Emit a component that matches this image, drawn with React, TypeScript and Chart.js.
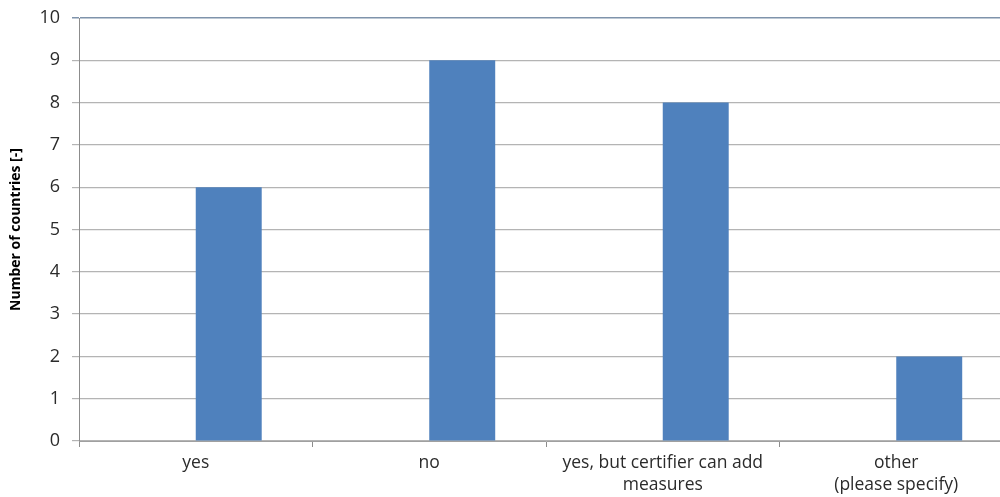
import React, { useEffect, useRef } from "react";
import { Chart, registerables } from "chart.js";

Chart.register(...registerables);

const categories: (string | string[])[] = [
  "yes",
  "no",
  ["yes, but certifier can add", "measures"],
  ["other", "(please specify)"],
];
const emptySeries: (number | null)[] = [null, null, null, null];
const countries: number[] = [6, 9, 8, 2];
const yTicks: number[] = [0, 1, 2, 3, 4, 5, 6, 7, 8, 9, 10];

const FONT = "'Open Sans', 'Liberation Sans', sans-serif";

export default function App() {
  const ref = useRef<HTMLCanvasElement | null>(null);

  useEffect(() => {
    document.body.style.margin = "0";
    const canvas = ref.current;
    if (!canvas) return;
    const chart = new Chart(canvas, {
      type: "bar",
      data: {
        labels: categories,
        datasets: [
          {
            label: "blank",
            data: emptySeries,
            backgroundColor: "rgba(0,0,0,0)",
          },
          {
            label: "Number of countries",
            data: countries,
            backgroundColor: "#4F81BD",
            borderWidth: 0,
          },
        ],
      },
      options: {
        animation: false,
        responsive: false,
        maintainAspectRatio: false,
        layout: { padding: { left: 0, right: 0, top: 18, bottom: 0 } },
        plugins: {
          legend: { display: false },
          tooltip: { enabled: false },
        },
        datasets: {
          bar: { categoryPercentage: 0.565, barPercentage: 1 },
        },
        scales: {
          x: {
            offset: true,
            border: { display: true, color: "#a0a0a0", width: 1 },
            grid: {
              display: true,
              offset: true,
              drawOnChartArea: false,
              drawTicks: true,
              tickLength: 6,
              color: "#8c8c8c",
            },
            ticks: {
              color: "#2b2b2b",
              font: { family: FONT, size: 17.5, lineHeight: 1.25 },
              padding: 5,
              maxRotation: 0,
              autoSkip: false,
            },
            afterFit: (scale: any) => {
              scale.height = 497 - 441;
              scale.paddingLeft = 0;
              scale.paddingRight = 0;
            },
          },
          y: {
            min: 0,
            max: 10,
            afterBuildTicks: (scale: any) => {
              scale.ticks = yTicks.map((v) => ({ value: v }));
            },
            border: { display: true, color: "#8c8c8c", width: 1 },
            grid: {
              display: true,
              drawTicks: true,
              tickLength: 7,
              color: (ctx: any) =>
                ctx.tick && ctx.tick.value === 10 ? "#7f93ab" : "#b4b4b4",
              lineWidth: (ctx: any) => (ctx.tick && ctx.tick.value === 10 ? 1.5 : 1.2),
            },
            ticks: {
              color: "#2b2b2b",
              font: { family: FONT, size: 18 },
              padding: 12,
            },
            title: {
              display: true,
              text: "Number of countries [-]",
              color: "#000000",
              font: { family: FONT, size: 14, weight: "bold" },
              padding: { top: 8, bottom: 0 },
            },
            afterFit: (scale: any) => {
              scale.width = 79;
              scale.paddingTop = 0;
              scale.paddingBottom = 0;
            },
          },
        },
      },
    });
    return () => chart.destroy();
  }, []);

  return (
    <div
      style={{
        position: "fixed",
        left: 0,
        top: 0,
        width: 1000,
        height: 497,
        overflow: "hidden",
        background: "#ffffff",
      }}
    >
      <canvas ref={ref} width={1013} height={497} style={{ display: "block" }} />
    </div>
  );
}
